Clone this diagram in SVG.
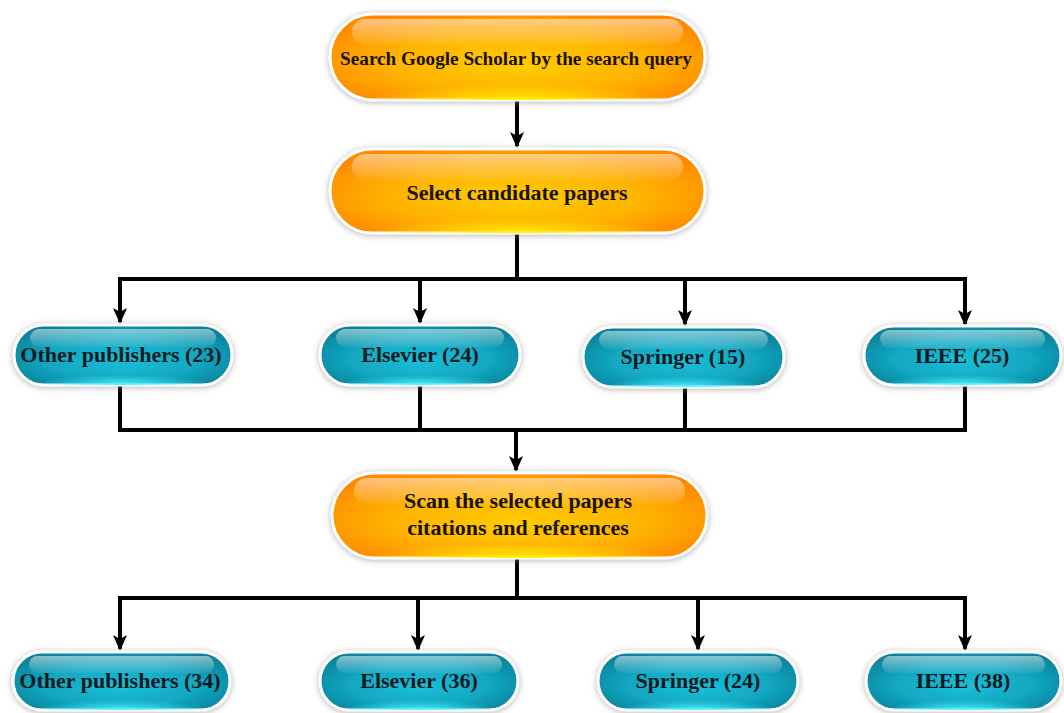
<svg xmlns="http://www.w3.org/2000/svg" width="1064" height="713" viewBox="0 0 1064 713">
<defs>
<radialGradient id="orBase" cx="0.5" cy="0.55" r="0.6" fx="0.5" fy="0.6">
<stop offset="0" stop-color="#FFCC00"/>
<stop offset="0.55" stop-color="#FFB400"/>
<stop offset="1" stop-color="#FF8A00"/>
</radialGradient>
<radialGradient id="orGlow" cx="0.5" cy="1" r="0.5" gradientTransform="translate(0.5,1) scale(0.8,0.35) translate(-0.5,-1)">
<stop offset="0" stop-color="#FFF400" stop-opacity="1"/>
<stop offset="1" stop-color="#FFE000" stop-opacity="0"/>
</radialGradient>
<radialGradient id="cyBase" cx="0.5" cy="0.55" r="0.6" fx="0.5" fy="0.6">
<stop offset="0" stop-color="#1CBFD8"/>
<stop offset="0.6" stop-color="#12A6C0"/>
<stop offset="1" stop-color="#0A839B"/>
</radialGradient>
<radialGradient id="cyGlow" cx="0.5" cy="1" r="0.5" gradientTransform="translate(0.5,1) scale(0.8,0.35) translate(-0.5,-1)">
<stop offset="0" stop-color="#55F6FF" stop-opacity="1"/>
<stop offset="1" stop-color="#30E0F8" stop-opacity="0"/>
</radialGradient>
<linearGradient id="hl" x1="0" y1="0" x2="0" y2="1">
<stop offset="0" stop-color="#FFFFFF" stop-opacity="0.5"/>
<stop offset="1" stop-color="#FFFFFF" stop-opacity="0.06"/>
</linearGradient>
<filter id="sh" x="-10%" y="-20%" width="120%" height="140%">
<feDropShadow dx="0" dy="1" stdDeviation="3" flood-color="#808080" flood-opacity="0.6"/>
</filter>
<marker id="ah" viewBox="0 0 16 14" refX="14" refY="7" markerWidth="16" markerHeight="14" markerUnits="userSpaceOnUse" orient="auto">
<path d="M0,0 L16,7 L0,14 L4,7 z" fill="#000"/>
</marker>
<style>
.frame{stroke:#FFFFFF;stroke-width:3;filter:url(#sh)}
.or{fill:url(#orBase)}
.cy{fill:url(#cyBase)}
.og{fill:url(#orGlow)}
.cg{fill:url(#cyGlow)}
.hl{fill:url(#hl)}
.t{font-family:'Liberation Serif','DejaVu Serif',serif;font-weight:bold;fill:#1A1208;text-anchor:middle}
.to{font-size:22px}
.ts{font-size:19.2px}
.tc{font-size:22px;fill:#0B1A22}
.ln{fill:none;stroke:#000;stroke-width:4}
</style>
</defs>
<rect width="1064" height="713" fill="#FFFFFF"/>

<g id="connectors">
<path class="ln" d="M517,100 V146" marker-end="url(#ah)"/>
<path class="ln" d="M517,233 V279 M118,279 H967"/>
<path class="ln" d="M120,279 V322" marker-end="url(#ah)"/>
<path class="ln" d="M420,279 V322" marker-end="url(#ah)"/>
<path class="ln" d="M685,279 V324" marker-end="url(#ah)"/>
<path class="ln" d="M965,279 V324" marker-end="url(#ah)"/>
<path class="ln" d="M120,385 V430 M420,385 V430 M685,387 V430 M965,385 V430 M118,430 H967"/>
<path class="ln" d="M516,430 V470" marker-end="url(#ah)"/>
<path class="ln" d="M517,558 V598 M118,598 H967"/>
<path class="ln" d="M120,598 V649" marker-end="url(#ah)"/>
<path class="ln" d="M418,598 V649" marker-end="url(#ah)"/>
<path class="ln" d="M698,598 V649" marker-end="url(#ah)"/>
<path class="ln" d="M965,598 V649" marker-end="url(#ah)"/>
</g>

<g id="n-search">
<rect class="frame or" x="330" y="14" width="375" height="86" rx="43"/>
<rect class="og" x="330" y="14" width="375" height="86" rx="43"/>
<rect class="hl" x="352" y="19" width="331" height="26" rx="13"/>
<text class="t ts" x="516" y="65">Search Google Scholar by the search query</text>
</g>

<g id="n-select">
<rect class="frame or" x="330" y="149" width="375" height="84" rx="42"/>
<rect class="og" x="330" y="149" width="375" height="84" rx="42"/>
<rect class="hl" x="352" y="154" width="331" height="26" rx="13"/>
<text class="t to" x="517" y="200">Select candidate papers</text>
</g>

<g id="n-other1">
<rect class="frame cy" x="14" y="325" width="218" height="60" rx="30"/>
<rect class="cg" x="14" y="325" width="218" height="60" rx="30"/>
<rect class="hl" x="30" y="329" width="186" height="18" rx="9"/>
<text class="t tc" x="121" y="362">Other publishers (23)</text>
</g>

<g id="n-elsevier1">
<rect class="frame cy" x="320" y="325" width="200" height="60" rx="30"/>
<rect class="cg" x="320" y="325" width="200" height="60" rx="30"/>
<rect class="hl" x="336" y="329" width="168" height="18" rx="9"/>
<text class="t tc" x="420" y="362">Elsevier (24)</text>
</g>

<g id="n-springer1">
<rect class="frame cy" x="583" y="327" width="201" height="60" rx="30"/>
<rect class="cg" x="583" y="327" width="201" height="60" rx="30"/>
<rect class="hl" x="599" y="331" width="169" height="18" rx="9"/>
<text class="t tc" x="683" y="364">Springer (15)</text>
</g>

<g id="n-ieee1">
<rect class="frame cy" x="864" y="326" width="197" height="59" rx="29.5"/>
<rect class="cg" x="864" y="326" width="197" height="59" rx="29.5"/>
<rect class="hl" x="880" y="330" width="165" height="18" rx="9"/>
<text class="t tc" x="962" y="363">IEEE (25)</text>
</g>

<g id="n-scan">
<rect class="frame or" x="332" y="473" width="375" height="85" rx="42.5"/>
<rect class="og" x="332" y="473" width="375" height="85" rx="42.5"/>
<rect class="hl" x="354" y="478" width="331" height="26" rx="13"/>
<text class="t to" x="518" y="508">Scan the selected papers</text>
<text class="t to" x="518" y="535">citations and references</text>
</g>

<g id="n-other2">
<rect class="frame cy" x="13" y="652" width="217" height="58" rx="29"/>
<rect class="cg" x="13" y="652" width="217" height="58" rx="29"/>
<rect class="hl" x="29" y="656" width="185" height="17" rx="8.5"/>
<text class="t tc" x="120" y="688">Other publishers (34)</text>
</g>

<g id="n-elsevier2">
<rect class="frame cy" x="320" y="652" width="198" height="58" rx="29"/>
<rect class="cg" x="320" y="652" width="198" height="58" rx="29"/>
<rect class="hl" x="336" y="656" width="166" height="17" rx="8.5"/>
<text class="t tc" x="419" y="688">Elsevier (36)</text>
</g>

<g id="n-springer2">
<rect class="frame cy" x="598" y="652" width="200" height="58" rx="29"/>
<rect class="cg" x="598" y="652" width="200" height="58" rx="29"/>
<rect class="hl" x="614" y="656" width="168" height="17" rx="8.5"/>
<text class="t tc" x="698" y="688">Springer (24)</text>
</g>

<g id="n-ieee2">
<rect class="frame cy" x="866" y="652" width="195" height="58" rx="29"/>
<rect class="cg" x="866" y="652" width="195" height="58" rx="29"/>
<rect class="hl" x="882" y="656" width="163" height="17" rx="8.5"/>
<text class="t tc" x="963" y="688">IEEE (38)</text>
</g>
</svg>
